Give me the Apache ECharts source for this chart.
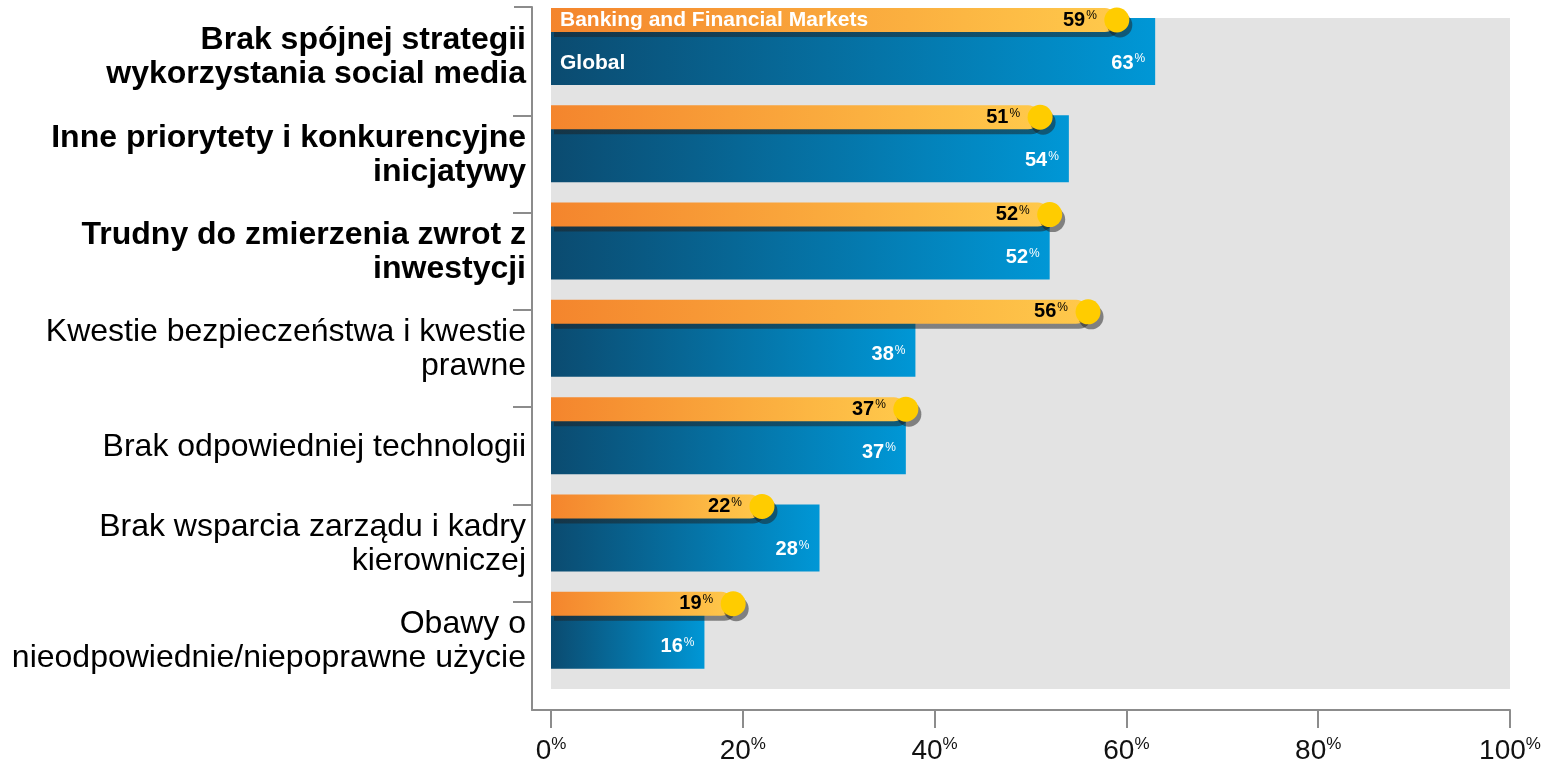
<!DOCTYPE html>
<html>
<head>
<meta charset="utf-8">
<script src="https://cdn.jsdelivr.net/npm/echarts@6/dist/echarts.min.js"></script>
<style>
  html, body { margin: 0; padding: 0; background: #ffffff; }
  #chart { width: 1562px; height: 766px; }
</style>
</head>
<body>
<div id="chart"></div>
<script>
// Barriers to social media adoption: banking sector vs. global average (% of respondents)
const categories = [
  'Brak spójnej strategii\nwykorzystania social media',
  'Inne priorytety i konkurencyjne\ninicjatywy',
  'Trudny do zmierzenia zwrot z\ninwestycji',
  'Kwestie bezpieczeństwa i kwestie\nprawne',
  'Brak odpowiedniej technologii',
  'Brak wsparcia zarządu i kadry\nkierowniczej',
  'Obawy o\nnieodpowiednie/niepoprawne użycie'
];
const boldCategories = [0, 1, 2];
const bankingValues = [59, 51, 52, 56, 37, 22, 19];
const globalValues = [63, 54, 52, 38, 37, 28, 16];
const seriesNames = ['Banking and Financial Markets', 'Global'];
const xTicks = [0, 20, 40, 60, 80, 100];

const FONT = '"Liberation Sans", Arial, Helvetica, sans-serif';
const AXIS_COLOR = '#8c8c8c';

const chart = echarts.init(document.getElementById('chart'), null, { renderer: 'canvas' });

// Bar geometry inside one category band
const BLUE_H = 67;       // global bar height, starts at band top
const ORANGE_UP = 10;    // banking bar rises above band top
const ORANGE_H = 24;
const DOT_R = 12.5;

const blueGradient = () => new echarts.graphic.LinearGradient(0, 0, 1, 0, [
  { offset: 0, color: '#0b4b70' },
  { offset: 1, color: '#0097d6' }
]);
const orangeGradient = () => new echarts.graphic.LinearGradient(0, 0, 1, 0, [
  { offset: 0, color: '#f4852d' },
  { offset: 1, color: '#ffc94b' }
]);

const shadow = {
  shadowColor: 'rgba(30,30,30,0.5)',
  shadowBlur: 0,
  shadowOffsetX: 3,
  shadowOffsetY: 5
};

// value + small raised percent sign, for zrender text elements
function pctRich(size, color) {
  return {
    v: { fontFamily: FONT, fontSize: size, fontWeight: 'bold', fill: color, lineHeight: size + 2 },
    p: { fontFamily: FONT, fontSize: Math.round(size * 0.62), fontWeight: 'normal', fill: color,
         verticalAlign: 'top', lineHeight: size, padding: [1, 0, 0, 1] }
  };
}

function renderGlobal(params, api) {
  const v = api.value(0);
  const idx = api.value(1);
  const end = api.coord([v, idx]);
  const start = api.coord([0, idx]);
  const band = api.size([0, 1])[1];
  const top = end[1] - band / 2;
  const children = [
    {
      type: 'rect',
      shape: { x: start[0], y: top, width: end[0] - start[0], height: BLUE_H },
      style: { fill: blueGradient() }
    },
    {
      type: 'text',
      style: {
        x: end[0] - 10, y: top + 45, align: 'right', verticalAlign: 'middle',
        text: '{v|' + v + '}{p|%}', rich: pctRich(20, '#ffffff')
      }
    }
  ];
  if (params.dataIndex === 0) {
    children.push({
      type: 'text',
      style: {
        x: start[0] + 9, y: top + 45, align: 'left', verticalAlign: 'middle',
        text: params.seriesName, fill: '#ffffff', font: 'bold 21px ' + FONT
      }
    });
  }
  return { type: 'group', children: children };
}

function renderBanking(params, api) {
  const v = api.value(0);
  const idx = api.value(1);
  const end = api.coord([v, idx]);
  const start = api.coord([0, idx]);
  const band = api.size([0, 1])[1];
  const top = end[1] - band / 2 - ORANGE_UP;
  const mid = top + ORANGE_H / 2;
  const children = [
    {
      type: 'rect',
      shape: { x: start[0], y: top, width: end[0] - start[0], height: ORANGE_H, r: [0, 12, 12, 0] },
      style: Object.assign({ fill: orangeGradient() }, shadow)
    },
    {
      type: 'circle',
      shape: { cx: end[0], cy: mid, r: DOT_R },
      style: Object.assign({ fill: '#ffcc00' }, shadow)
    },
    {
      type: 'text',
      style: {
        x: end[0] - 20, y: mid, align: 'right', verticalAlign: 'middle',
        text: '{v|' + v + '}{p|%}', rich: pctRich(20, '#000000')
      }
    }
  ];
  if (params.dataIndex === 0) {
    children.push({
      type: 'text',
      style: {
        x: start[0] + 9, y: mid, align: 'left', verticalAlign: 'middle',
        text: params.seriesName, fill: '#ffffff', font: 'bold 21px ' + FONT
      }
    });
  }
  return { type: 'group', children: children };
}

const categoryLabel = (value, index) => {
  const key = boldCategories.indexOf(index) >= 0 ? 'b' : 'n';
  return value.split('\n').map(line => '{' + key + '|' + line + '}').join('\n');
};

const option = {
  animation: false,
  backgroundColor: '#ffffff',
  grid: [
    // grey plot panel
    { left: 551, top: 18, width: 959, height: 671, show: true, backgroundColor: '#e3e3e3', borderWidth: 0 },
    // L-shaped axis frame
    { left: 532, top: 7, width: 978, height: 703 },
    // bars
    { left: 551, top: 18, width: 959, height: 681 }
  ],
  xAxis: [
    { gridIndex: 0, type: 'value', show: false, min: 0, max: 100 },
    {
      gridIndex: 1, type: 'value', min: 0, max: 1,
      axisLine: { show: true, onZero: false, lineStyle: { color: AXIS_COLOR, width: 2 } },
      axisTick: { show: false }, axisLabel: { show: false }, splitLine: { show: false }
    },
    {
      gridIndex: 2, type: 'value', position: 'bottom', min: 0, max: 100, interval: 20, offset: 11,
      axisLine: { show: false, onZero: false },
      axisTick: { show: true, length: 18, lineStyle: { color: AXIS_COLOR, width: 2 } },
      splitLine: { show: false },
      axisLabel: {
        margin: 26,
        customValues: xTicks,
        formatter: v => '{n|' + v + '}{p|%}',
        rich: {
          n: { fontFamily: FONT, fontSize: 28, color: '#111111', lineHeight: 30 },
          p: { fontFamily: FONT, fontSize: 17, color: '#111111', verticalAlign: 'top', lineHeight: 28 }
        }
      }
    }
  ],
  yAxis: [
    { gridIndex: 0, type: 'value', show: false, min: 0, max: 1 },
    {
      gridIndex: 1, type: 'value', min: 0, max: 1,
      axisLine: { show: true, onZero: false, lineStyle: { color: AXIS_COLOR, width: 2 } },
      axisTick: { show: true, length: 18, customValues: [1], lineStyle: { color: AXIS_COLOR, width: 2 } },
      axisLabel: { show: false }, splitLine: { show: false }
    },
    {
      gridIndex: 2, type: 'category', data: categories, inverse: true, offset: 19,
      axisLine: { show: false, onZero: false }, axisTick: { show: false }, splitLine: { show: false },
      axisLabel: {
        margin: 6,
        padding: [0, 0, 18, 0],
        formatter: categoryLabel,
        rich: {
          b: { fontFamily: FONT, fontSize: 32, fontWeight: 'bold', color: '#000000', lineHeight: 34, align: 'right' },
          n: { fontFamily: FONT, fontSize: 32, fontWeight: 'normal', color: '#000000', lineHeight: 34, align: 'right' }
        }
      }
    },
    {
      // boundaries between category bands
      gridIndex: 2, type: 'value', position: 'left', inverse: true, offset: 19,
      min: 0, max: categories.length,
      axisLine: { show: false, onZero: false }, axisLabel: { show: false }, splitLine: { show: false },
      axisTick: {
        show: true, length: 19,
        customValues: categories.slice(1).map((c, i) => i + 1),
        lineStyle: { color: AXIS_COLOR, width: 2 }
      }
    }
  ],
  series: [
    {
      name: seriesNames[1],
      type: 'custom',
      xAxisIndex: 2, yAxisIndex: 2,
      renderItem: renderGlobal,
      encode: { x: 0, y: 1 },
      data: globalValues.map((v, i) => [v, i]),
      z: 2
    },
    {
      name: seriesNames[0],
      type: 'custom',
      xAxisIndex: 2, yAxisIndex: 2,
      renderItem: renderBanking,
      encode: { x: 0, y: 1 },
      data: bankingValues.map((v, i) => [v, i]),
      z: 3
    }
  ]
};

chart.setOption(option);
</script>
</body>
</html>
